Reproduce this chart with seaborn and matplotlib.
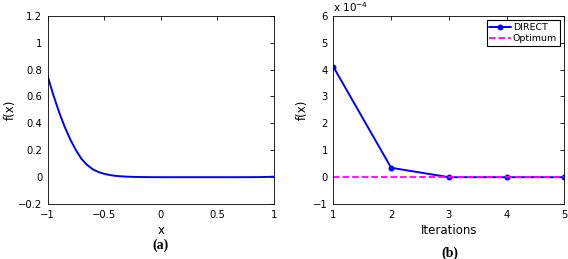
import numpy as np
import pandas as pd
import seaborn as sns
import matplotlib
matplotlib.use("Agg")
import matplotlib.pyplot as plt

# ---- data ----
x_vals = [-1.0, -0.95, -0.9, -0.85, -0.8, -0.75, -0.7, -0.65, -0.6, -0.55, -0.5,
          -0.45, -0.4, -0.35, -0.3, -0.25, -0.2, -0.15, -0.1, -0.05, 0.0,
          0.1, 0.2, 0.3, 0.4, 0.5, 0.6, 0.7, 0.8, 0.9, 0.95, 1.0]
f_vals = [0.75, 0.61, 0.485, 0.375, 0.28, 0.2, 0.135, 0.09, 0.058, 0.038, 0.025,
          0.016, 0.010, 0.0065, 0.004, 0.0025, 0.0015, 0.0008, 0.0004, 0.0001, 0.0,
          0.0, 0.0, 0.0, 0.0, 0.0, 0.0, 0.0, 0.0003, 0.001, 0.002, 0.004]
iterations = [1, 2, 3, 4, 5]
direct_vals = [4.1e-4, 0.35e-4, 0.0, 0.0, 0.0]
optimum_vals = [0.0, 0.0, 0.0, 0.0, 0.0]

sns.set_style("white")
plt.rcParams['font.family'] = ['DejaVu Sans']
plt.rcParams['xtick.direction'] = 'in'
plt.rcParams['ytick.direction'] = 'in'
plt.rcParams['text.color'] = 'black'
plt.rcParams['axes.labelcolor'] = 'black'
plt.rcParams['xtick.color'] = 'black'
plt.rcParams['ytick.color'] = 'black'

BLUE = (0, 0, 1)
MAGENTA = (1, 0, 1)

fig = plt.figure(figsize=(5.68, 2.59), dpi=100)
ax1 = fig.add_axes([0.084, 0.212, 0.398, 0.727])
ax2 = fig.add_axes([0.587, 0.212, 0.4065, 0.727])

df1 = pd.DataFrame({"x": x_vals, "f": f_vals})
sns.lineplot(data=df1, x="x", y="f", ax=ax1, color=BLUE, linewidth=1.4)
ax1.set_xlim(-1, 1)
ax1.set_ylim(-0.2, 1.2)
ax1.set_xticks([-1, -0.5, 0, 0.5, 1])
ax1.set_xticklabels(["\u22121", "\u22120.5", "0", "0.5", "1"])
ax1.set_yticks([-0.2, 0, 0.2, 0.4, 0.6, 0.8, 1, 1.2])
ax1.set_yticklabels(["\u22120.2", "0", "0.2", "0.4", "0.6", "0.8", "1", "1.2"])
ax1.set_xlabel("x", fontsize=8.5, labelpad=3)
ax1.set_ylabel("f(x)", fontsize=8.5, labelpad=1)

df2 = pd.DataFrame({"it": iterations, "direct": direct_vals, "opt": optimum_vals})
sns.lineplot(data=df2, x="it", y="direct", ax=ax2, color=BLUE, linewidth=1.4,
             marker="o", markersize=3.5, markeredgecolor=BLUE, label="DIRECT")
sns.lineplot(data=df2, x="it", y="opt", ax=ax2, color=MAGENTA, linewidth=1.3,
             linestyle="--", label="Optimum")
ax2.set_xlim(1, 5)
ax2.set_ylim(-1e-4, 6e-4)
ax2.set_xticks([1, 2, 3, 4, 5])
ax2.set_yticks([-1e-4, 0, 1e-4, 2e-4, 3e-4, 4e-4, 5e-4, 6e-4])
ax2.set_yticklabels(["\u22121", "0", "1", "2", "3", "4", "5", "6"])
ax2.text(0.0, 1.01, r"x 10$^{-4}$", transform=ax2.transAxes, fontsize=7.5,
         ha="left", va="bottom")
ax2.set_xlabel("Iterations", fontsize=8.5, labelpad=3)
ax2.set_ylabel("f(x)", fontsize=8.5, labelpad=3)
leg = ax2.legend(loc="upper right", fontsize=6.8, frameon=True, fancybox=False,
                 borderpad=0.3, labelspacing=0.25, handlelength=2.3,
                 handletextpad=0.2, borderaxespad=0.45)
leg.get_frame().set_edgecolor("black")
leg.get_frame().set_linewidth(0.8)
leg.get_frame().set_alpha(1)

for ax in (ax1, ax2):
    ax.tick_params(axis="both", labelsize=7.2, length=3, width=0.6,
                   top=True, right=True, pad=4)
    for s in ax.spines.values():
        s.set_linewidth(0.6)
        s.set_color("black")

fig.text(0.283, 0.054, "(a)", fontsize=10, fontweight="bold",
         family=["Liberation Serif", "DejaVu Serif"], ha="center", va="center")
fig.text(0.792, 0.022, "(b)", fontsize=10, fontweight="bold",
         family=["Liberation Serif", "DejaVu Serif"], ha="center", va="center")

fig.savefig("out.png", dpi=100)
